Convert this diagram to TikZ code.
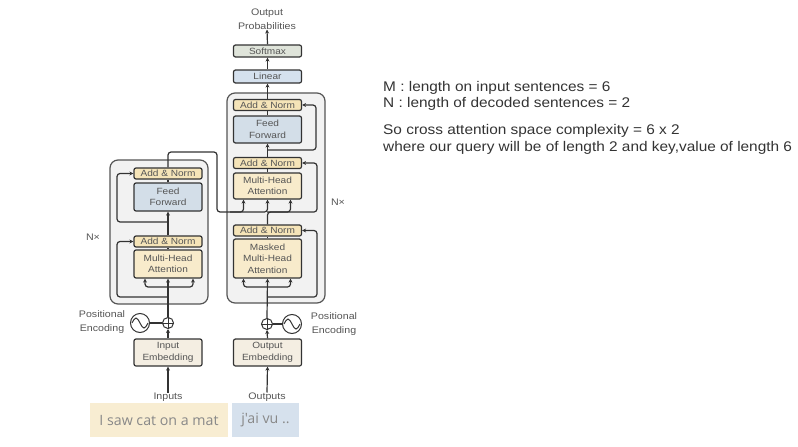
\documentclass[tikz,border=0pt]{standalone}
\usepackage{fontspec}
\setmainfont{Liberation Sans}
\newfontfamily\wordfont{Open Sans}
\newfontfamily\notefont[FakeStretch=1.1]{Liberation Sans}
\newfontfamily\figfont[FakeStretch=1.12]{Liberation Sans}
\usetikzlibrary{arrows.meta}

\definecolor{lineclr}{HTML}{333333}
\definecolor{txtclr}{HTML}{555555}
\definecolor{stackclr}{HTML}{F2F2F2}
\definecolor{addclr}{HTML}{F5E4B8}
\definecolor{attclr}{HTML}{F8EBCB}
\definecolor{ffclr}{HTML}{D3DEE8}
\definecolor{linclr}{HTML}{D5E1EE}
\definecolor{softclr}{HTML}{DFE4DA}
\definecolor{embclr}{HTML}{F4EEE2}
\definecolor{srcclr}{HTML}{F8EDD2}
\definecolor{tgtclr}{HTML}{D6E1ED}
\definecolor{wordclr}{HTML}{888888}

\tikzset{
  layer/.style={draw=lineclr, line width=1.2pt, rounded corners=2pt, minimum width=68pt,
    inner sep=0pt, align=center, text=txtclr, font=\figfont\fontsize{9}{11.5}\selectfont},
  addnorm/.style={layer, fill=addclr, minimum height=11pt},
  attn/.style={layer, fill=attclr},
  ffwd/.style={layer, fill=ffclr, minimum height=28pt},
  embed/.style={layer, fill=embclr, minimum height=27pt},
  stack/.style={draw=txtclr, line width=1.2pt, rounded corners=8pt, fill=stackclr, inner sep=0pt},
  label/.style={text=txtclr, align=center, inner sep=0pt, font=\figfont\fontsize{9.5}{14}\selectfont},
  plus/.style={circle, draw=lineclr, line width=1pt, minimum size=11pt, inner sep=0pt},
  wave/.style={circle, draw=lineclr, line width=1pt, minimum size=19pt, inner sep=0pt},
  sentence/.style={inner sep=0pt, text=wordclr, font=\wordfont\fontsize{14.2}{16}\selectfont},
  note/.style={anchor=base west, inner sep=0pt, text=lineclr, font=\notefont\fontsize{14}{16}\selectfont},
  flow/.style={draw=lineclr, line width=1.2pt, rounded corners=3pt},
  arr/.style={flow, -{Stealth[length=4pt,width=4pt]}},
}

\begin{document}
\begin{tikzpicture}[x=1pt, y=-1pt]
  \useasboundingbox (0,0) rectangle (798,447);

  % stacks
  \node[stack, minimum width=98pt, minimum height=144pt] (encStack) at (159,232) {};
  \node[stack, minimum width=98pt, minimum height=210pt] (decStack) at (276,198) {};

  % encoder
  \node[embed] (encEmb) at (168,352.5) {Input\\Embedding};
  \node[plus] (encAdd) at (168,323) {};
  \node[wave] (encPE) at (140,323) {};
  \node[attn, minimum height=28pt] (encMHA) at (168,264) {Multi-Head\\Attention};
  \node[addnorm] (encAN1) at (168,241.5) {Add \& Norm};
  \node[ffwd] (encFF) at (168,197) {Feed\\Forward};
  \node[addnorm] (encAN2) at (168,173.5) {Add \& Norm};

  % decoder
  \node[embed] (decEmb) at (267.5,352.5) {Output\\Embedding};
  \node[plus] (decAdd) at (267,324) {};
  \node[wave] (decPE) at (292,324) {};
  \node[attn, minimum height=39pt] (decMMHA) at (267.5,258.5) {Masked\\Multi-Head\\Attention};
  \node[addnorm] (decAN1) at (267.5,230.5) {Add \& Norm};
  \node[attn, minimum height=26pt] (decMHA) at (267.5,186) {Multi-Head\\Attention};
  \node[addnorm] (decAN2) at (267.5,163) {Add \& Norm};
  \node[ffwd, minimum height=27pt] (decFF) at (267.5,129.5) {Feed\\Forward};
  \node[addnorm] (decAN3) at (267.5,105) {Add \& Norm};
  \node[layer, fill=linclr, minimum height=13pt] (linear) at (267.5,76.5) {Linear};
  \node[layer, fill=softclr, minimum height=12pt] (softmax) at (267.5,51) {Softmax};

  % labels
  \node[label] (probs) at (267,19) {Output\\Probabilities};
  \node[label] (inputs) at (168,397) {Inputs};
  \node[label] (outputs) at (267,397) {Outputs};
  \node[label] (encPos) at (102,322) {Positional\\Encoding};
  \node[label] (decPos) at (334,324) {Positional\\Encoding};
  \node[label] (encN) at (93,237) {N×};
  \node[label] (decN) at (338,202) {N×};

  % example sentences
  \node[sentence, fill=srcclr, minimum width=138pt, minimum height=34pt] (src) at (159,420) {I saw cat on a mat};
  \node[sentence, fill=tgtclr, minimum width=67pt, minimum height=34pt] (tgt) at (265.5,420) {j'ai vu ..};

  % notes
  \node[note] (noteM) at (383,91) {M : length on input sentences = 6};
  \node[note] (noteN) at (383,107.5) {N : length of decoded sentences = 2};
  \node[note] (noteSo) at (383,134.3) {So cross attention space complexity = 6 x 2};
  \node[note] (noteQ) at (383,151) {where our query will be of length 2 and key,value of length 6};

  % positional encoding waves
  \draw[lineclr, line width=1pt] (encPE.center) ++(-8,0) sin ++(4,-5) cos ++(4,5) sin ++(4,5) cos ++(4,-5);
  \draw[lineclr, line width=1pt] (decPE.center) ++(-8,0) sin ++(4,-5) cos ++(4,5) sin ++(4,5) cos ++(4,-5);
  \draw[lineclr, line width=1pt] (encAdd.north) -- (encAdd.south) (encAdd.west) -- (encAdd.east);
  \draw[lineclr, line width=1pt] (decAdd.north) -- (decAdd.south) (decAdd.west) -- (decAdd.east);

  \begin{scope}
    % encoder flow
    \draw[arr] (inputs.north) -- (encEmb.south);
    \draw[arr] (encEmb.north) -- (encAdd.south);
    \draw[flow] (encPE.east) -- (encAdd.west);
    \draw[arr] (encAdd.north) -- (encMHA.south);
    \draw[arr] (168,287) -| ([xshift=-23pt]encMHA.south);
    \draw[arr] (168,287) -| ([xshift=25pt]encMHA.south);
    \draw[arr] (168,297) -| (117,241.5) -- (encAN1.west);
    \draw[flow] (encMHA.north) -- (encAN1.south);
    \draw[arr] (encAN1.north) -- (encFF.south);
    \draw[arr] (168,222) -| (117,173.5) -- (encAN2.west);
    \draw[flow] (encFF.north) -- (encAN2.south);
    \draw[arr] (encAN2.north) |- (217,152) -- (217,212) -| ([xshift=-24pt]decMHA.south);
    \draw[arr] (230,212) -| (decMHA.south);

    % decoder flow
    \draw[arr] (outputs.north) -- (decEmb.south);
    \draw[arr] (decEmb.north) -- (decAdd.south);
    \draw[flow] (decPE.west) -- (decAdd.east);
    \draw[arr] (decAdd.north) -- (decMMHA.south);
    \draw[arr] (267,287) -| ([xshift=-24pt]decMMHA.south);
    \draw[arr] (267,287) -| ([xshift=23pt]decMMHA.south);
    \draw[arr] (267,297) -| (317,230.5) -- (decAN1.east);
    \draw[flow] (decMMHA.north) -- (decAN1.south);
    \draw[arr] (decAN1.north) |- (280,212) -| ([xshift=23pt]decMHA.south);
    \draw[arr] (267,212) -| (317,163) -- (decAN2.east);
    \draw[flow] (decMHA.north) -- (decAN2.south);
    \draw[arr] (decAN2.north) -- (decFF.south);
    \draw[arr] (267,150) -| (316,105) -- (decAN3.east);
    \draw[flow] (decFF.north) -- (decAN3.south);
    \draw[arr] (decAN3.north) -- (linear.south);
    \draw[arr] (linear.north) -- (softmax.south);
    \draw[arr] (softmax.north) -- (probs.south);
  \end{scope}
\end{tikzpicture}
\end{document}
